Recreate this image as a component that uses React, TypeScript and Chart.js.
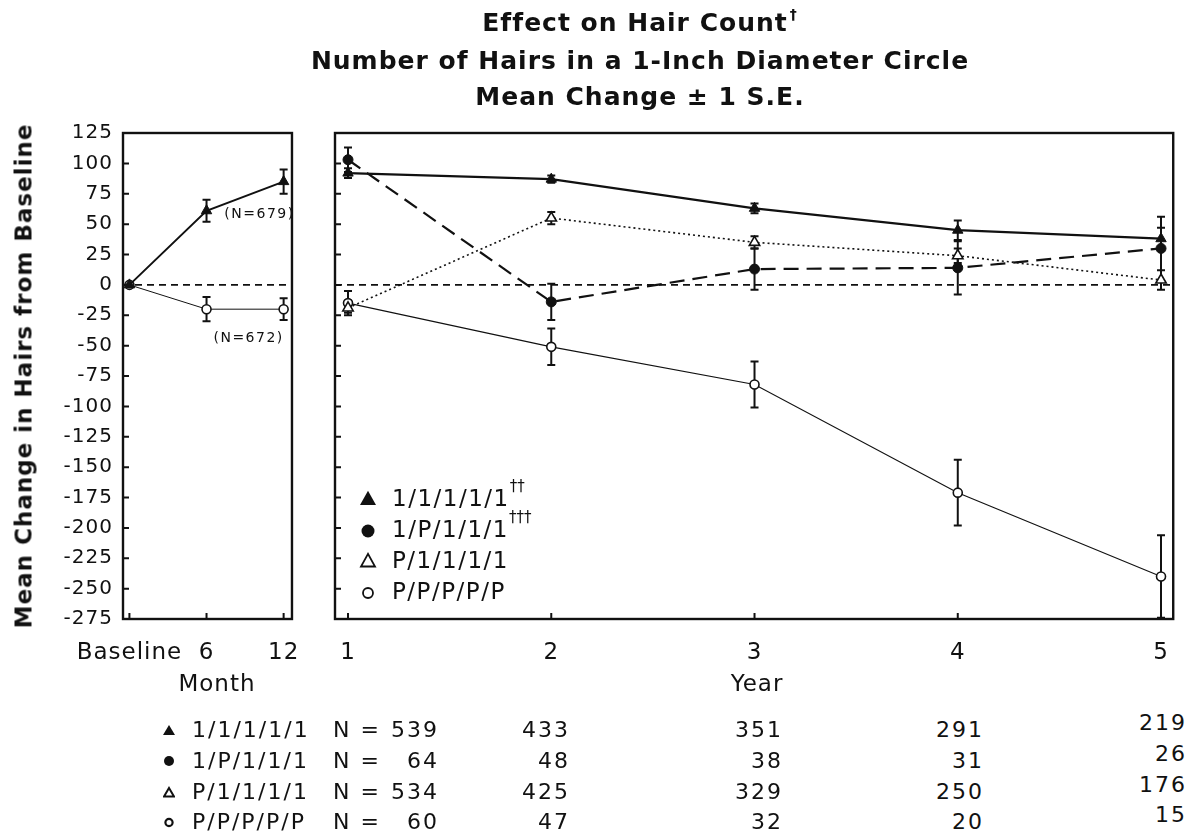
import React, { useEffect, useRef } from "react";
import { Chart, registerables } from "chart.js";
Chart.register(...registerables);

// ---------------- data ----------------
const monthTicks = [0, 6, 12];
const monthTickLabels = ["Baseline", "6", "12"];
const pooledActiveMean = [0, 61, 85];
const pooledActiveSE = [0, 9, 10];
const pooledPlaceboMean = [0, -20, -20];
const pooledPlaceboSE = [0, 10, 9];
const pooledNotes = ["(N=679)", "(N=672)"];

const yearTicks = [1, 2, 3, 4, 5];
const groupLabels = ["1/1/1/1/1", "1/P/1/1/1", "P/1/1/1/1", "P/P/P/P/P"];
const legendDaggers = ["††", "†††", "", ""];
const mean11111 = [92, 87, 63, 45, 38];
const se11111 = [4, 3, 4, 8, 9];
const mean1P111 = [103, -14, 13, 14, 30];
const se1P111 = [10, 15, 17, 22, 26];
const meanP1111 = [-19, 55, 35, 24, 4];
const seP1111 = [4, 5, 5, 6, 8];
const meanPPPPP = [-15, -51, -82, -171, -240];
const sePPPPP = [10, 15, 19, 27, 34];

const yMin = -275;
const yMax = 125;
const yStep = 25;

const nPrefix = "N =";
const n11111 = [539, 433, 351, 291, 219];
const n1P111 = [64, 48, 38, 31, 26];
const nP1111 = [534, 425, 329, 250, 176];
const nPPPPP = [60, 47, 32, 20, 15];
const nTable = [n11111, n1P111, nP1111, nPPPPP];

const titleLines = [
  "Effect on Hair Count",
  "Number of Hairs in a 1-Inch Diameter Circle",
  "Mean Change ± 1 S.E.",
];
const titleDagger = "†";
const yTitle = "Mean Change in Hairs from Baseline";
const monthTitle = "Month";
const yearTitle = "Year";

// ---------------- styles ----------------
const FONT = "'DejaVu Sans', Verdana, sans-serif";
const INK = "#111";
type Kind = "triFilled" | "circFilled" | "triOpen" | "circOpen";
const groupKinds: Kind[] = ["triFilled", "circFilled", "triOpen", "circOpen"];

function drawMarker(ctx: CanvasRenderingContext2D, kind: Kind, x: number, y: number, s: number) {
  ctx.save();
  ctx.beginPath();
  if (kind === "triFilled" || kind === "triOpen") {
    ctx.moveTo(x, y - s * 0.58);
    ctx.lineTo(x - s / 2, y + s * 0.32);
    ctx.lineTo(x + s / 2, y + s * 0.32);
    ctx.closePath();
  } else {
    ctx.arc(x, y, s / 2, 0, Math.PI * 2);
  }
  if (kind === "triFilled" || kind === "circFilled") {
    ctx.fillStyle = INK;
    ctx.fill();
  } else {
    ctx.fillStyle = "#fff";
    ctx.fill();
    ctx.lineWidth = 1.8;
    ctx.strokeStyle = INK;
    ctx.stroke();
  }
  ctx.restore();
}

const panelPlugin = {
  id: "panelDecor",
  beforeUpdate(chart: any) {
    chart.ctx.letterSpacing = "1px";
  },
  beforeDraw(chart: any) {
    chart.ctx.letterSpacing = "1px";
  },
  beforeDatasetsDraw(chart: any) {
    const { ctx, chartArea: a, scales } = chart;
    const xs = scales.x;
    const ys = scales.y;
    // zero reference line
    ctx.save();
    ctx.strokeStyle = INK;
    ctx.lineWidth = 1.6;
    ctx.setLineDash([7, 5]);
    const y0 = ys.getPixelForValue(0);
    ctx.beginPath();
    ctx.moveTo(a.left, y0);
    ctx.lineTo(a.right, y0);
    ctx.stroke();
    ctx.restore();
    // error bars
    ctx.save();
    ctx.beginPath();
    ctx.rect(a.left, a.top, a.width, a.height);
    ctx.clip();
    chart.data.datasets.forEach((ds: any) => {
      const se: number[] = ds.se;
      if (!se) return;
      ds.data.forEach((p: any, i: number) => {
        const e = se[i];
        if (!e) return;
        const px = xs.getPixelForValue(p.x);
        const y1 = ys.getPixelForValue(p.y + e);
        const y2 = ys.getPixelForValue(p.y - e);
        ctx.strokeStyle = INK;
        ctx.lineWidth = 2;
        ctx.beginPath();
        ctx.moveTo(px, y1);
        ctx.lineTo(px, y2);
        ctx.moveTo(px - 4, y1);
        ctx.lineTo(px + 4, y1);
        ctx.moveTo(px - 4, y2);
        ctx.lineTo(px + 4, y2);
        ctx.stroke();
      });
    });
    ctx.restore();
  },
  afterDraw(chart: any) {
    const { ctx, chartArea: a, scales } = chart;
    const xs = scales.x;
    const ys = scales.y;
    ctx.save();
    ctx.strokeStyle = INK;
    ctx.lineWidth = 2;
    // inward ticks
    ctx.beginPath();
    ys.ticks.forEach((t: any) => {
      const py = ys.getPixelForValue(t.value);
      ctx.moveTo(a.left, py);
      ctx.lineTo(a.left + 6, py);
    });
    xs.ticks.forEach((t: any) => {
      const px = xs.getPixelForValue(t.value);
      ctx.moveTo(px, a.bottom);
      ctx.lineTo(px, a.bottom - 6);
    });
    ctx.stroke();
    // frame
    ctx.lineWidth = 2.4;
    ctx.strokeRect(a.left, a.top, a.width, a.height);
    ctx.restore();

    const opts = chart.options.plugins.panelDecor || {};
    if (opts.notes) {
      ctx.save();
      ctx.font = `14px ${FONT}`;
      ctx.letterSpacing = "1.5px";
      ctx.fillStyle = INK;
      ctx.textAlign = "center";
      ctx.textBaseline = "middle";
      const px6 = xs.getPixelForValue(monthTicks[1]);
      const px12 = xs.getPixelForValue(monthTicks[2]);
      ctx.fillText(pooledNotes[0], px6 + 53, ys.getPixelForValue(pooledActiveMean[1]) + 4);
      ctx.fillText(pooledNotes[1], px12 - 35, ys.getPixelForValue(pooledPlaceboMean[2]) + 29);
      ctx.restore();
    }
    if (opts.legend) {
      ctx.save();
      const baseX = a.left + 33;
      const baseY = 500;
      groupLabels.forEach((lab, i) => {
        const y = baseY + i * 31;
        const k = groupKinds[i];
        const s = k === "triFilled" ? 16 : k === "circFilled" ? 13 : k === "triOpen" ? 14 : 10;
        drawMarker(ctx, k, baseX, y, s);
        ctx.font = `23px ${FONT}`;
        ctx.letterSpacing = "1.5px";
        ctx.fillStyle = INK;
        ctx.textAlign = "left";
        ctx.textBaseline = "middle";
        ctx.fillText(lab, baseX + 24, y);
        const w = ctx.measureText(lab).width;
        if (legendDaggers[i]) {
          ctx.font = `15px ${FONT}`;
          ctx.letterSpacing = "0px";
          ctx.fillText(legendDaggers[i], baseX + 24 + w, y - 13);
        }
      });
      ctx.restore();
    }
  },
};

function baseOptions(xMin: number, xMax: number, tickVals: number[], tickText: (v: number) => string, showY: boolean, pad: any, extra: any) {
  return {
    animation: false,
    responsive: false,
    maintainAspectRatio: false,
    layout: { padding: pad },
    events: [],
    plugins: {
      legend: { display: false },
      tooltip: { enabled: false },
      panelDecor: extra,
    },
    scales: {
      x: {
        type: "linear",
        min: xMin,
        max: xMax,
        afterBuildTicks: (s: any) => {
          s.ticks = tickVals.map((v) => ({ value: v }));
        },
        afterFit: (s: any) => {
          s.height = 81;
        },
        ticks: {
          callback: (v: any) => tickText(Number(v)),
          font: { family: FONT, size: 23 },
          color: INK,
          padding: 20,
          maxRotation: 0,
          autoSkip: false,
        },
        grid: { display: false, drawTicks: false },
        border: { display: false },
      },
      y: {
        type: "linear",
        min: yMin,
        max: yMax,
        afterFit: (s: any) => {
          s.width = showY ? 123 : 0;
        },
        ticks: {
          display: showY,
          stepSize: yStep,
          font: { family: FONT, size: 20 },
          color: INK,
          padding: 10,
        },
        grid: { display: false, drawTicks: false },
        border: { display: false },
      },
    },
  };
}

function pts(xs: number[], ys: number[]) {
  return xs.map((x, i) => ({ x, y: ys[i] }));
}

function dsStyle(kind: Kind, lineWidth: number, dash: number[], radius: number) {
  const filled = kind === "triFilled" || kind === "circFilled";
  return {
    borderColor: INK,
    borderWidth: lineWidth,
    borderDash: dash,
    pointStyle: kind.startsWith("tri") ? "triangle" : "circle",
    pointRadius: radius,
    pointBackgroundColor: filled ? INK : "#fff",
    pointBorderColor: INK,
    pointBorderWidth: filled ? 1 : 1.6,
    fill: false,
    tension: 0,
  };
}

export default function App() {
  const leftRef = useRef<HTMLCanvasElement>(null);
  const rightRef = useRef<HTMLCanvasElement>(null);

  useEffect(() => {
    const left = new Chart(leftRef.current as HTMLCanvasElement, {
      type: "line",
      data: {
        datasets: [
          { label: "active", data: pts(monthTicks, pooledActiveMean), se: pooledActiveSE, ...dsStyle("triFilled", 2, [], 6) } as any,
          { label: "placebo", data: pts(monthTicks, pooledPlaceboMean), se: pooledPlaceboSE, ...dsStyle("circOpen", 1, [], 4.5) } as any,
        ],
      },
      options: baseOptions(
        -0.5,
        12.65,
        monthTicks,
        (v) => monthTickLabels[monthTicks.indexOf(v)] ?? "",
        true,
        { top: 133, right: 15, left: 0, bottom: 0 },
        { notes: true }
      ) as any,
      plugins: [panelPlugin as any],
    });

    const means = [mean11111, mean1P111, meanP1111, meanPPPPP];
    const ses = [se11111, se1P111, seP1111, sePPPPP];
    const widths = [2.2, 2.2, 1.6, 1.1];
    const dashes = [[], [15, 8], [2, 3], []];
    const radii = [6, 5, 6, 4.5];
    const right = new Chart(rightRef.current as HTMLCanvasElement, {
      type: "line",
      data: {
        datasets: groupLabels.map(
          (lab, i) =>
            ({
              label: lab,
              data: pts(yearTicks, means[i]),
              se: ses[i],
              ...dsStyle(groupKinds[i], widths[i], dashes[i], radii[i]),
            } as any)
        ),
      },
      options: baseOptions(
        0.936,
        5.06,
        yearTicks,
        (v) => String(v),
        false,
        { top: 133, right: 11, left: 15, bottom: 0 },
        { legend: true }
      ) as any,
      plugins: [panelPlugin as any],
    });
    return () => {
      left.destroy();
      right.destroy();
    };
  }, []);

  const textBase: React.CSSProperties = {
    position: "absolute",
    whiteSpace: "nowrap",
    fontFamily: FONT,
    color: INK,
    lineHeight: 1,
  };
  const titleCenters = [22, 60, 96];
  const rowY = [730, 761, 792, 822];
  const colRight = [437, 568, 781, 982, 1185];
  const lastColShift = -7;

  const tableMarker = (k: Kind) => {
    if (k === "triFilled")
      return <polygon points="6,1 12,11 0,11" fill={INK} />;
    if (k === "circFilled") return <circle cx="6" cy="6" r="5" fill={INK} />;
    if (k === "triOpen")
      return <polygon points="6,2 11,10.5 1,10.5" fill="#fff" stroke={INK} strokeWidth="2" />;
    return <circle cx="6" cy="6.5" r="3.6" fill="#fff" stroke={INK} strokeWidth="2.2" />;
  };

  return (
    <div style={{ position: "absolute", left: 0, top: 0, width: 1189, height: 833, background: "#fff", overflow: "hidden" }}>
      <canvas ref={leftRef} width={320} height={700} style={{ position: "absolute", left: 0, top: 0, width: 320, height: 700 }} />
      <canvas ref={rightRef} width={869} height={700} style={{ position: "absolute", left: 320, top: 0, width: 869, height: 700 }} />

      {titleLines.map((t, i) => (
        <div
          key={t}
          style={{
            ...textBase,
            left: 640,
            top: titleCenters[i],
            transform: "translate(-50%, -50%)",
            fontSize: 25,
            fontWeight: "bold",
            letterSpacing: "1px",
          }}
        >
          {t}
          {i === 0 ? (
            <span style={{ fontSize: 14, position: "relative", top: -12, marginLeft: 2 }}>{titleDagger}</span>
          ) : null}
        </div>
      ))}

      <div
        style={{
          ...textBase,
          left: 24,
          top: 376,
          transform: "translate(-50%, -50%) rotate(-90deg)",
          fontSize: 23,
          fontWeight: "bold",
          letterSpacing: "1px",
        }}
      >
        {yTitle}
      </div>

      <div style={{ ...textBase, left: 217, top: 683, transform: "translate(-50%, -50%)", fontSize: 23, letterSpacing: "1px" }}>
        {monthTitle}
      </div>
      <div style={{ ...textBase, left: 757, top: 683, transform: "translate(-50%, -50%)", fontSize: 23, letterSpacing: "1px" }}>
        {yearTitle}
      </div>

      {groupLabels.map((lab, r) => (
        <React.Fragment key={lab}>
          <svg width="12" height="12" style={{ position: "absolute", left: 163, top: rowY[r] - 6 }}>
            {tableMarker(groupKinds[r])}
          </svg>
          <div style={{ ...textBase, left: 192, top: rowY[r], transform: "translateY(-50%)", fontSize: 22, letterSpacing: "2px" }}>
            {lab}
          </div>
          <div style={{ ...textBase, left: 333, top: rowY[r], transform: "translateY(-50%)", fontSize: 22, letterSpacing: "2px" }}>
            {nPrefix}
          </div>
          {nTable[r].map((n, c) => (
            <div
              key={c}
              style={{
                ...textBase,
                right: 1189 - colRight[c] - 2,
                top: rowY[r] + (c === 4 ? lastColShift : 0),
                transform: "translateY(-50%)",
                fontSize: 22,
                letterSpacing: "2px",
                textAlign: "right",
              }}
            >
              {n}
            </div>
          ))}
        </React.Fragment>
      ))}
    </div>
  );
}
